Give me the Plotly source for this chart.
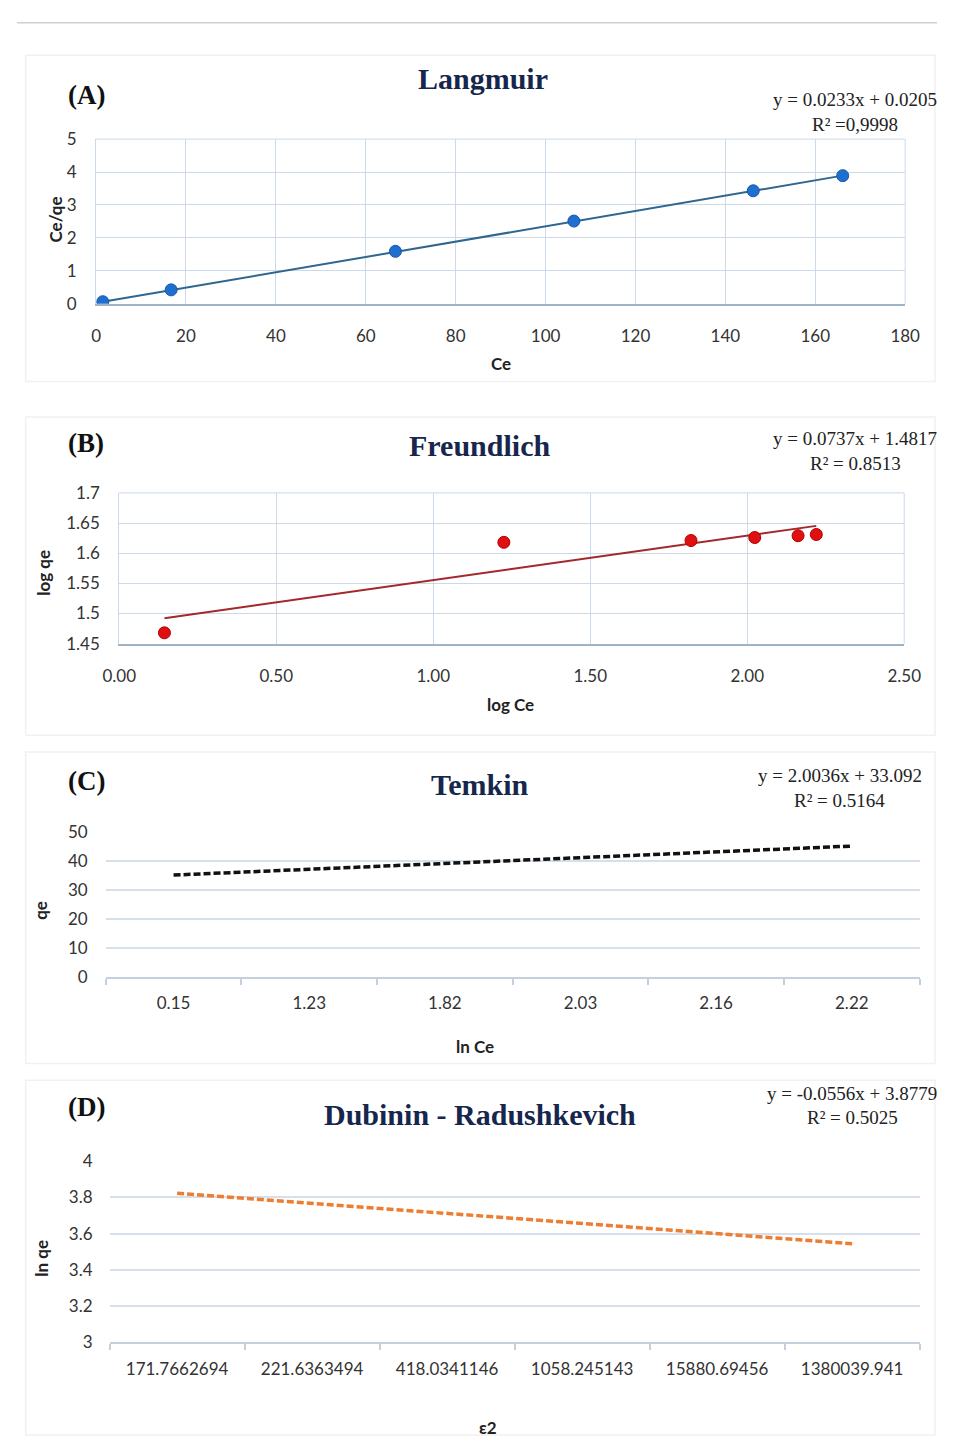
import plotly.graph_objects as go

W, H = 954, 1445

# ---------------- data ----------------
# (A) Langmuir
lang_ce = [1.5, 16.7, 66.6, 106.3, 146.2, 166.1]
lang_ceqe = [0.06, 0.42, 1.59, 2.51, 3.43, 3.89]
lang_slope, lang_int = 0.0233, 0.0205

# (B) Freundlich
fr_logce = [0.144, 1.225, 1.821, 2.024, 2.162, 2.220]
fr_logqe = [1.468, 1.618, 1.621, 1.626, 1.629, 1.631]
fr_slope, fr_int = 0.0737, 1.4817

# (C) Temkin (category axis, trendline only)
tem_cats = ["0.15", "1.23", "1.82", "2.03", "2.16", "2.22"]
tem_slope, tem_int = 2.0036, 33.092

# (D) Dubinin - Radushkevich (category axis, trendline only)
dr_cats = ["171.7662694", "221.6363494", "418.0341146", "1058.245143",
           "15880.69456", "1380039.941"]
dr_slope, dr_int = -0.0556, 3.8779

# ---------------- helpers ----------------
def dx(px):
    return px / W

def dy(py):
    return 1 - py / H

SERIF = "Liberation Serif, Times New Roman, serif"
SANS = "Lato, Liberation Sans, Arial, sans-serif"
SANSB = "Lato, Liberation Sans, Arial, sans-serif"
TITLE_C = "#16264d"
TICK_C = "#333333"
GRID_AB = "#cbd9ea"
GRID_CD = "#d6e0ec"

fig = go.Figure()

# A
fig.add_trace(go.Scatter(
    x=[lang_ce[0], lang_ce[-1]],
    y=[lang_slope * lang_ce[0] + lang_int, lang_slope * lang_ce[-1] + lang_int],
    mode="lines", line=dict(color="#2f6690", width=2),
    xaxis="x", yaxis="y", showlegend=False, hoverinfo="skip"))
fig.add_trace(go.Scatter(
    x=lang_ce, y=lang_ceqe, mode="markers",
    marker=dict(color="#1f6fd0", size=12, line=dict(color="#1558a8", width=1)),
    xaxis="x", yaxis="y", showlegend=False))

# B
fig.add_trace(go.Scatter(
    x=[fr_logce[0], fr_logce[-1]],
    y=[fr_slope * fr_logce[0] + fr_int, fr_slope * fr_logce[-1] + fr_int],
    mode="lines", line=dict(color="#a3282c", width=2),
    xaxis="x2", yaxis="y2", showlegend=False, hoverinfo="skip"))
fig.add_trace(go.Scatter(
    x=fr_logce, y=fr_logqe, mode="markers",
    marker=dict(color="#e01010", size=12, line=dict(color="#b00000", width=1)),
    xaxis="x2", yaxis="y2", showlegend=False))

# C
fig.add_trace(go.Scatter(
    x=tem_cats,
    y=[tem_slope * (i + 1) + tem_int for i in range(len(tem_cats))],
    mode="lines", line=dict(color="#111111", width=3.5, dash="7px,3px"),
    xaxis="x3", yaxis="y3", showlegend=False))

# D
fig.add_trace(go.Scatter(
    x=dr_cats,
    y=[dr_slope * (i + 1) + dr_int for i in range(len(dr_cats))],
    mode="lines", line=dict(color="#ed7d31", width=3.5, dash="7px,3px"),
    xaxis="x4", yaxis="y4", showlegend=False))

tickfont = dict(family=SANS, size=17, color=TICK_C)

common_ab_x = dict(showgrid=True, gridcolor=GRID_AB, gridwidth=1, zeroline=False,
                   showline=True, linecolor="#9fb2c6", linewidth=2,
                   ticks="", tickfont=tickfont, ticklabelstandoff=16)
common_ab_y = dict(showgrid=True, gridcolor=GRID_AB, gridwidth=1, zeroline=False,
                   showline=True, linecolor=GRID_AB, linewidth=1,
                   ticks="", tickfont=tickfont, ticklabelstandoff=15)

layout = dict(
    width=W, height=H, margin=dict(l=0, r=0, t=0, b=0),
    paper_bgcolor="white", plot_bgcolor="white",
    xaxis=dict(domain=[dx(82), dx(921)], range=[0, 180], dtick=20, anchor="y",
               **common_ab_x),
    yaxis=dict(domain=[dy(297), dy(130)], range=[0, 5], dtick=1, anchor="x",
               **common_ab_y),
    xaxis2=dict(domain=[dx(106), dx(920)], range=[0, 2.5], dtick=0.5,
                tickformat=".2f", anchor="y2", **common_ab_x),
    yaxis2=dict(domain=[dy(642), dy(489)], range=[1.45, 1.7], dtick=0.05,
                tickformat="", anchor="x2", **common_ab_y),
    xaxis3=dict(domain=[dx(92), dx(936)], type="category", anchor="y3",
                range=[-0.5, 5.5], showgrid=False, zeroline=False,
                showline=True, linecolor="#c4d0de", linewidth=1.5,
                ticks="outside", tickson="boundaries", ticklen=6,
                tickcolor="#c4d0de", tickwidth=1.5, tickfont=tickfont,
                ticklabelstandoff=10),
    yaxis3=dict(domain=[dy(980), dy(833)], range=[0, 50], dtick=10, anchor="x3",
                showgrid=True, gridcolor=GRID_CD, gridwidth=2, zeroline=False,
                showline=False, ticks="", tickfont=tickfont,
                ticklabelstandoff=17),
    xaxis4=dict(domain=[dx(96), dx(936)], type="category", anchor="y4",
                range=[-0.5, 5.5], showgrid=False, zeroline=False,
                showline=True, linecolor="#c4d0de", linewidth=1.5,
                ticks="outside", tickson="boundaries", ticklen=6,
                tickcolor="#c4d0de", tickwidth=1.5, tickfont=tickfont,
                ticklabelstandoff=10),
    yaxis4=dict(domain=[dy(1351), dy(1167)], range=[3, 4], dtick=0.2, anchor="x4",
                showgrid=True, gridcolor=GRID_CD, gridwidth=2, zeroline=False,
                showline=False, ticks="", tickfont=tickfont,
                ticklabelstandoff=16),
)
fig.update_layout(**layout)

shapes = [
    # top separator line
    dict(type="line", xref="paper", yref="paper", x0=0, x1=1, y0=dy(12), y1=dy(12),
         line=dict(color="#cfcfcf", width=1.5)),
]
# faint panel backgrounds
for (y0, y1) in [(45, 376), (412, 735), (752, 1068), (1085, 1445)]:
    shapes.append(dict(type="rect", xref="paper", yref="paper",
                       x0=dx(9), x1=dx(952), y0=dy(y1), y1=dy(y0),
                       line=dict(color="#f1f1f1", width=1.5), fillcolor="rgba(0,0,0,0)",
                       layer="below"))
# frames for A/B plot areas (top and right edges)
for xr, yr in [("x", "y"), ("x2", "y2")]:
    shapes.append(dict(type="line", xref=xr + " domain", yref=yr + " domain",
                       x0=0, x1=1, y0=1, y1=1, line=dict(color=GRID_AB, width=1),
                       layer="below"))
    shapes.append(dict(type="line", xref=xr + " domain", yref=yr + " domain",
                       x0=1, x1=1, y0=0, y1=1, line=dict(color=GRID_AB, width=1),
                       layer="below"))
fig.update_layout(shapes=shapes)

ann = []

def text(x, y, s, size, family, color="#111111", angle=0, bold=False):
    ann.append(dict(x=dx(x), y=dy(y), xref="paper", yref="paper",
                    text=("<b>%s</b>" % s) if bold else s, showarrow=False,
                    font=dict(family=family, size=size, color=color),
                    textangle=angle, xanchor="center", yanchor="middle"))

panels = [
    ("(A)", 85, "Langmuir", 69, 483, "y = 0.0233x + 0.0205", "R² =0,9998", 90, 869),
    ("(B)", 438, "Freundlich", 441, 480, "y = 0.0737x + 1.4817", "R² = 0.8513", 434, 869),
    ("(C)", 781, "Temkin", 785, 480, "y = 2.0036x + 33.092", "R² = 0.5164", 776, 853),
    ("(D)", 1112, "Dubinin - Radushkevich", 1120, 480, "y = -0.0556x + 3.8779",
     "R² = 0.5025", 1098, 866),
]
for lab, ly, title, ty, tx, eq, r2, ey, ex in panels:
    text(72, ly, lab, 27, SERIF, "#111111", bold=True)
    text(tx, ty, title, 30, SERIF, TITLE_C, bold=True)
    text(ex, ey, eq, 19, SERIF, "#222222")
    text(ex, ey + 25, r2, 19, SERIF, "#222222")

# axis titles
text(40, 212, "Ce/qe", 17, SANSB, "#222222", angle=-90, bold=True)
text(502, 358, "Ce", 17, SANSB, "#222222", bold=True)
text(28, 570, "log qe", 17, SANSB, "#222222", angle=-90, bold=True)
text(512, 704, "log Ce", 17, SANSB, "#222222", bold=True)
text(25, 913, "qe", 17, SANSB, "#222222", angle=-90, bold=True)
text(475, 1051, "ln Ce", 17, SANSB, "#222222", bold=True)
text(25, 1266, "ln qe", 17, SANSB, "#222222", angle=-90, bold=True)
text(488, 1437, "ε2", 17, SANSB, "#222222", bold=True)

fig.update_layout(annotations=ann)

fig.write_html("out.html",
               post_script="document.body.style.margin='0';"
                           "document.body.style.overflow='hidden';")
